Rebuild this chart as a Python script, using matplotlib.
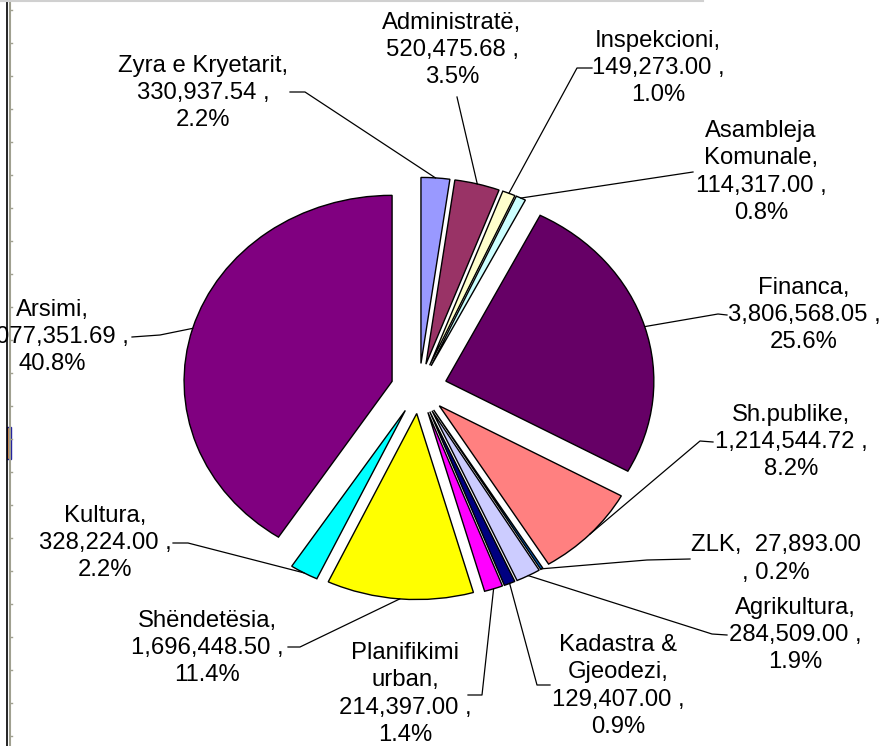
import numpy as np
import matplotlib
matplotlib.use("Agg")
import matplotlib.pyplot as plt
from matplotlib.lines import Line2D
from matplotlib.patches import Rectangle

# ---- data ----
categories = ["Zyra e Kryetarit", "Administratë", "Inspekcioni", "Asambleja Komunale",
              "Financa", "Sh.publike", "ZLK", "Agrikultura", "Kadastra & Gjeodezi",
              "Planifikimi urban", "Shëndetësia", "Kultura", "Arsimi"]
values = [330937.54, 520475.68, 149273.00, 114317.00, 3806568.05, 1214544.72,
          27893.00, 284509.00, 129407.00, 214397.00, 1696448.50, 328224.00, 6077351.69]
label_texts = [
    "Zyra e Kryetarit,\n330,937.54 ,\n2.2%",
    "Administratë,\n520,475.68 ,\n3.5%",
    "Inspekcioni,\n149,273.00 ,\n1.0%",
    "Asambleja\nKomunale,\n114,317.00 ,\n0.8%",
    "Financa,\n3,806,568.05 ,\n25.6%",
    "Sh.publike,\n1,214,544.72 ,\n8.2%",
    "ZLK,  27,893.00\n, 0.2%",
    "Agrikultura,\n284,509.00 ,\n1.9%",
    "Kadastra &\nGjeodezi,\n129,407.00 ,\n0.9%",
    "Planifikimi\nurban,\n214,397.00 ,\n1.4%",
    "Shëndetësia,\n1,696,448.50 ,\n11.4%",
    "Kultura,\n328,224.00 ,\n2.2%",
    "Arsimi,\n6,077,351.69 ,\n40.8%",
]
colors = ["#9999FF", "#993366", "#FFFFCC", "#CCFFFF", "#660066", "#FF8080",
          "#0066CC", "#CCCCFF", "#000080", "#FF00FF", "#FFFF00", "#00FFFF", "#800080"]

# ---- layout (pixels, top-left origin) ----
W, H = 881, 746
CX, CY = 419, 388.5        # pie centre
RX, RY = 208, 186          # pie radii (pie is drawn stretched)
EXPLODE = 0.135
label_pos = [(203, 93), (452, 50), (658, 68), (761, 172), (804, 315), (791, 442),
             (776, 559), (795, 635), (618, 686), (405, 694), (207, 648), (105, 543),
             (52, 337)]
leader_pts = [[(290, 92), (305, 92)], [(457, 97)], [(592, 68), (577, 68)],
              [(693, 172)], [(727, 315), (718, 314)], [(713, 442), (700, 441)],
              [(690, 559), (647, 560)], [(727, 635), (712, 634)],
              [(550, 685), (537, 685)], [(468, 695), (482, 695)],
              [(288, 647), (300, 647)], [(173, 543), (188, 543)],
              [(132, 337), (160, 335)]]

fig = plt.figure(figsize=(W / 100, H / 100), dpi=100)
fig.patch.set_facecolor("white")
ax = fig.add_axes([0, 0, 1, 1])
wedges, _ = ax.pie(values, colors=colors, explode=[EXPLODE] * len(values),
                   startangle=90, counterclock=False, radius=1,
                   wedgeprops=dict(edgecolor="black", linewidth=1.0))
ax.set_aspect("auto")
ax.set_xlim(-CX / RX, (W - CX) / RX)
ax.set_ylim(-(H - CY) / RY, CY / RY)
ax.axis("off")

fig.canvas.draw()

def to_frac(p):
    return (p[0] / W, 1 - p[1] / H)

for w, txt, lp, pts in zip(wedges, label_texts, label_pos, leader_pts):
    mid = np.deg2rad((w.theta1 + w.theta2) / 2)
    cx, cy = w.center
    ax_pt = (cx + w.r * np.cos(mid), cy + w.r * np.sin(mid))
    disp = ax.transData.transform(ax_pt)
    anchor = (disp[0] / W, disp[1] / H)
    xs = [to_frac(p)[0] for p in pts] + [anchor[0]]
    ys = [to_frac(p)[1] for p in pts] + [anchor[1]]
    fig.add_artist(Line2D(xs, ys, color="black", linewidth=0.9,
                          transform=fig.transFigure))
    fx, fy = to_frac(lp)
    fig.text(fx, fy, txt, ha="center", va="center", fontsize=17.2,
             family="Liberation Sans", linespacing=1.31, color="black")

# window frame artifacts
fig.add_artist(Line2D([7 / W, 7 / W], [0, 1], color="black", linewidth=1.2,
                      transform=fig.transFigure))
fig.add_artist(Line2D([9.5 / W, 9.5 / W], [0, 1], color="#A0A090", linewidth=1.5,
                      transform=fig.transFigure))
for ty in range(10, H, 33):
    fig.add_artist(Line2D([9.5 / W, 12 / W], [1 - ty / H, 1 - ty / H],
                          color="#A0A090", linewidth=1.0, transform=fig.transFigure))
fig.add_artist(Rectangle((7 / W, 1 - 459 / H), 3.5 / W, 32 / H, facecolor="#F0A040",
                         edgecolor="#2020A0", linewidth=1.0, transform=fig.transFigure))
fig.add_artist(Line2D([0, 703 / W], [1 - 1 / H, 1 - 1 / H], color="#D0D0D0",
                      linewidth=1.5, transform=fig.transFigure))

fig.savefig("out.png", dpi=100, facecolor="white")
